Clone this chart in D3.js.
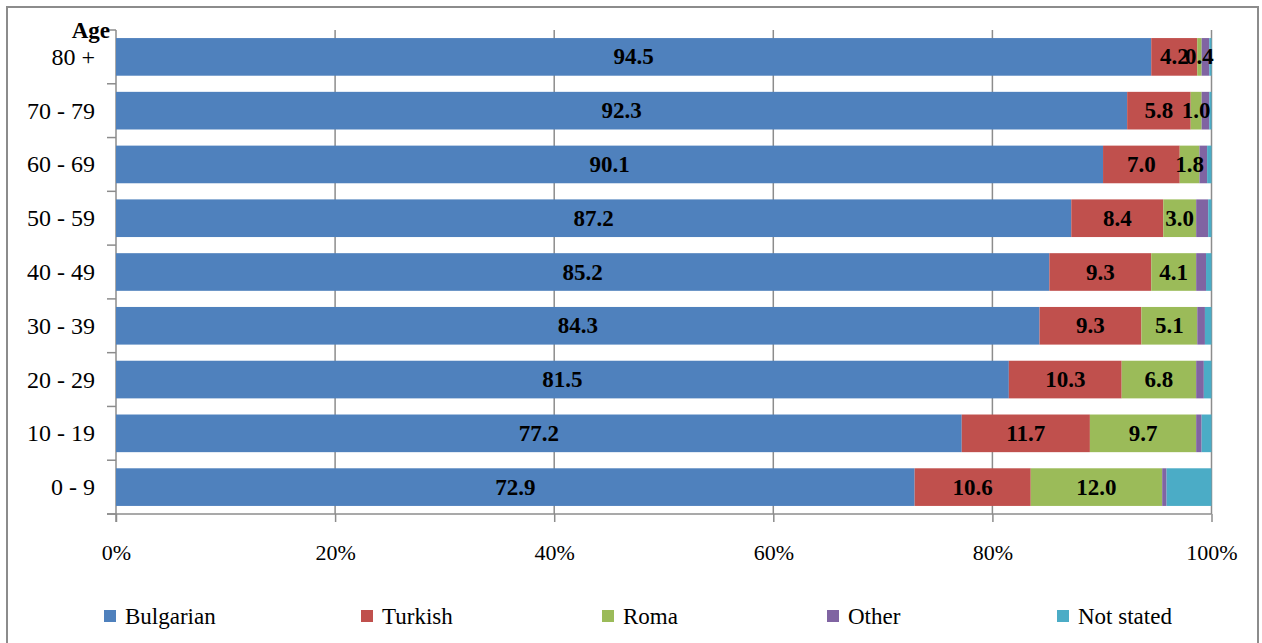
<!DOCTYPE html>
<html>
<head>
<meta charset="utf-8">
<script src="https://cdn.jsdelivr.net/npm/d3@7"></script>
<style>
  body { margin: 0; background: #fff; }
  svg { display: block; }
</style>
</head>
<body>
<script>
// ---- Data ----
const ages = ["80 +", "70 - 79", "60 - 69", "50 - 59", "40 - 49", "30 - 39", "20 - 29", "10 - 19", "0 - 9"];
const seriesNames = ["Bulgarian", "Turkish", "Roma", "Other", "Not stated"];
const bulgarian = [94.5, 92.3, 90.1, 87.2, 85.2, 84.3, 81.5, 77.2, 72.9];
const turkish   = [4.2, 5.8, 7.0, 8.4, 9.3, 9.3, 10.3, 11.7, 10.6];
const roma      = [0.4, 1.0, 1.8, 3.0, 4.1, 5.1, 6.8, 9.7, 12.0];
const other     = [0.7, 0.7, 0.7, 1.1, 0.9, 0.7, 0.7, 0.5, 0.4];
const notStated = [0.2, 0.2, 0.4, 0.3, 0.5, 0.6, 0.7, 0.9, 4.1];
const labelled  = [true, true, true, false, false];
const xTicks = [0, 20, 40, 60, 80, 100];
const colors = ["#4F81BD", "#C0504D", "#9BBB59", "#8064A2", "#4BACC6"];

// ---- Layout ----
const W = 1262, H = 643;
const plotL = 116, plotR = 1211.5, plotT = 30, plotB = 514;
const legendX = [104, 361, 602, 827, 1057];
const FONT = "'Liberation Serif', 'Times New Roman', Times, serif";

const svg = d3.select("body").append("svg").attr("width", W).attr("height", H)
  .style("font-family", FONT);

// outer border
svg.append("rect").attr("x", 7).attr("y", 7).attr("width", 1251).attr("height", 660)
  .attr("fill", "#fff").attr("stroke", "#8c8c8c").attr("stroke-width", 2);

const seriesVals = [bulgarian, turkish, roma, other, notStated];
const rows = ages.map((a, i) => {
  const r = { age: a };
  seriesNames.forEach((s, k) => r[s] = seriesVals[k][i]);
  return r;
});
const stacked = d3.stack().keys(seriesNames)(rows);

const x = d3.scaleLinear().domain([0, 100]).range([plotL, plotR]);
const y = d3.scaleBand().domain(ages).range([plotT, plotB]).paddingInner(0.3).paddingOuter(0.15);

// gridlines
svg.append("g").selectAll("line").data(xTicks.filter(d => d > 0)).join("line")
  .attr("x1", d => x(d)).attr("x2", d => x(d)).attr("y1", plotT).attr("y2", plotB)
  .attr("stroke", "#8c8c8c").attr("stroke-width", 1.5);

// x axis
const xAxis = svg.append("g").attr("transform", `translate(0,${plotB})`)
  .call(d3.axisBottom(x).tickValues(xTicks).tickFormat(d => d + "%").tickSize(8).tickPadding(22));
xAxis.attr("font-family", null);
xAxis.select(".domain").remove();
xAxis.selectAll("line").attr("stroke", "#8c8c8c").attr("stroke-width", 1.5);
xAxis.selectAll("text").style("font-size", "22px").style("font-family", FONT).attr("fill", "#000");
svg.append("line").attr("x1", plotL - 9).attr("x2", plotR).attr("y1", plotB).attr("y2", plotB)
  .attr("stroke", "#8c8c8c").attr("stroke-width", 1.5);

// y axis
svg.append("line").attr("x1", plotL).attr("x2", plotL).attr("y1", plotT).attr("y2", plotB + 8)
  .attr("stroke", "#8c8c8c").attr("stroke-width", 1.5);
const boundaries = d3.range(ages.length + 1).map(i => plotT + (plotB - plotT) * i / ages.length);
svg.append("g").selectAll("line").data(boundaries).join("line")
  .attr("x1", plotL - 9).attr("x2", plotL).attr("y1", d => d).attr("y2", d => d)
  .attr("stroke", "#8c8c8c").attr("stroke-width", 1.5);
svg.append("g").selectAll("text").data(ages).join("text")
  .attr("x", 95).attr("y", d => y(d) + y.bandwidth() / 2)
  .attr("text-anchor", "end").attr("dominant-baseline", "central")
  .style("font-family", FONT).style("font-size", "24px").text(d => d);

// bars
const layers = svg.append("g").selectAll("g").data(stacked).join("g")
  .attr("fill", (d, i) => colors[i]);
layers.selectAll("rect").data(d => d).join("rect")
  .attr("x", d => x(d[0])).attr("width", d => x(d[1]) - x(d[0]))
  .attr("y", d => y(d.data.age)).attr("height", y.bandwidth());

// labels
stacked.forEach((layer, k) => {
  if (!labelled[k]) return;
  svg.append("g").selectAll("text").data(layer).join("text")
    .attr("x", d => (x(d[0]) + x(d[1])) / 2)
    .attr("y", d => y(d.data.age) + y.bandwidth() / 2)
    .attr("text-anchor", "middle").attr("dominant-baseline", "central")
    .style("font-family", FONT).style("font-size", "23px").style("font-weight", "bold")
    .text(d => d3.format(".1f")(d[1] - d[0]));
});

// Age title
svg.append("text").attr("x", 110).attr("y", 30).attr("text-anchor", "end")
  .attr("dominant-baseline", "central")
  .style("font-family", FONT).style("font-size", "23px").style("font-weight", "bold").text("Age");

// legend
const lg = svg.append("g").selectAll("g").data(seriesNames).join("g")
  .attr("transform", (d, i) => `translate(${legendX[i]},616)`);
lg.append("rect").attr("x", 0).attr("y", -6).attr("width", 12).attr("height", 12)
  .attr("fill", (d, i) => colors[i]);
lg.append("text").attr("x", 21).attr("y", 0).attr("dominant-baseline", "central")
  .style("font-family", FONT).style("font-size", "23px").text(d => d);
</script>
</body>
</html>
